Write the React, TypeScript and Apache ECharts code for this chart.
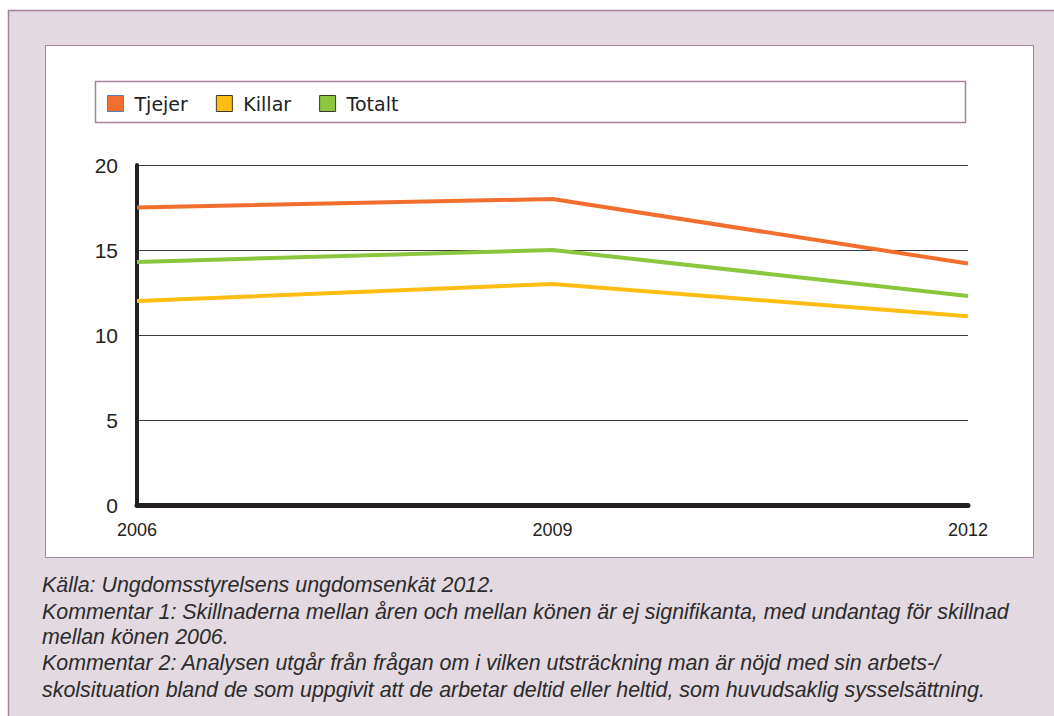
import React, { useEffect, useRef } from "react";
import * as echarts from "echarts";

const years = ["2006", "2009", "2012"];
const tjejer = [17.5, 18.0, 14.2];
const killar = [12.0, 13.0, 11.1];
const totalt = [14.3, 15.0, 12.3];
const seriesNames = ["Tjejer", "Killar", "Totalt"];
const colors = ["#f26e2e", "#fdbd12", "#8cc63f"];
const footerLines = [
  "Källa: Ungdomsstyrelsens ungdomsenkät 2012.",
  "Kommentar 1: Skillnaderna mellan åren och mellan könen är ej signifikanta, med undantag för skillnad",
  "mellan könen 2006.",
  "Kommentar 2: Analysen utgår från frågan om i vilken utsträckning man är nöjd med sin arbets-/",
  "skolsituation bland de som uppgivit att de arbetar deltid eller heltid, som huvudsaklig sysselsättning.",
];

export default function App() {
  const ref = useRef<HTMLDivElement>(null);
  useEffect(() => {
    if (!ref.current) return;
    const chart = echarts.init(ref.current, null, { renderer: "svg" });
    const data = [tjejer, killar, totalt];
    const footerY = [585, 612, 637, 663, 690];
    chart.setOption({
      animation: false,
      backgroundColor: "#ffffff",
      graphic: [
        {
          type: "rect",
          z: -10,
          shape: { x: 8.5, y: 10.5, width: 1060, height: 720 },
          style: { fill: "#e2d9e1", stroke: "#a583a0", lineWidth: 1.5 },
          silent: true,
        },
        {
          type: "rect",
          z: -9,
          shape: { x: 45.5, y: 45.5, width: 988, height: 512 },
          style: { fill: "#ffffff", stroke: "#a583a0", lineWidth: 1 },
          silent: true,
        },
        {
          type: "rect",
          z: -8,
          shape: { x: 95.5, y: 81.5, width: 870, height: 41 },
          style: { fill: "#ffffff", stroke: "#a583a0", lineWidth: 1.5 },
          silent: true,
        },
        ...footerLines.map((t, i) => ({
          type: "text",
          x: 42,
          y: footerY[i],
          style: {
            text: t,
            fill: "#2b2b2b",
            font: "italic 21.4px 'Liberation Sans', Arial, sans-serif",
            verticalAlign: "middle",
          },
          silent: true,
        })),
      ],
      legend: {
        left: 102,
        top: 89,
        icon: "rect",
        itemWidth: 16,
        itemHeight: 16,
        itemGap: 28,
        textStyle: {
          fontSize: 19,
          color: "#222",
          fontFamily: "'DejaVu Sans', Verdana, sans-serif",
          padding: [0, 0, 0, 6],
        },
        data: seriesNames.map((n, i) => ({
          name: n,
          itemStyle: {
            color: colors[i],
            borderColor: i === 0 ? "#5b7fb5" : "#3a3a2a",
            borderWidth: 1,
          },
        })),
      },
      grid: { left: 137, right: 86, top: 165, bottom: 211, containLabel: false },
      xAxis: {
        type: "category",
        data: years,
        boundaryGap: false,
        axisLine: { show: true, lineStyle: { color: "#231f20", width: 5 } },
        axisTick: { show: false },
        axisLabel: {
          fontSize: 18,
          color: "#222",
          fontFamily: "'Liberation Sans', Arial, sans-serif",
          margin: 16,
        },
      },
      yAxis: {
        type: "value",
        min: 0,
        max: 20,
        interval: 5,
        axisLine: { show: true, lineStyle: { color: "#231f20", width: 4 } },
        axisTick: { show: false },
        splitLine: { lineStyle: { color: "#3a3a3a", width: 1 } },
        axisLabel: {
          fontSize: 21,
          color: "#222",
          fontFamily: "'Liberation Sans', Arial, sans-serif",
          margin: 19,
        },
      },
      series: seriesNames.map((n, i) => ({
        name: n,
        type: "line",
        data: data[i],
        symbol: "none",
        z: 5,
        lineStyle: { color: colors[i], width: 4 },
        itemStyle: { color: colors[i] },
      })),
    });
    return () => chart.dispose();
  }, []);
  return (
    <div
      ref={ref}
      style={{ position: "absolute", left: 0, top: 0, width: 1054, height: 716 }}
    />
  );
}
